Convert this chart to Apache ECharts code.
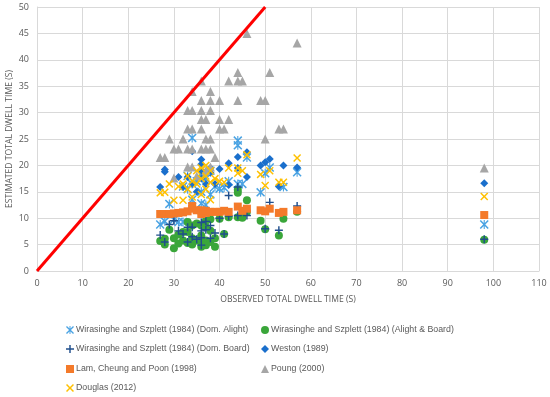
<!DOCTYPE html>
<html><head><meta charset="utf-8">
<script src="https://cdn.jsdelivr.net/npm/echarts@6/dist/echarts.min.js"></script>
<style>html,body{margin:0;padding:0;background:#fff}#c{width:550px;height:397px}</style>
</head><body><div id="c"></div>
<script>
var xTicks = [0,10,20,30,40,50,60,70,80,90,100,110];
var yTicks = [0,5,10,15,20,25,30,35,40,45,50];
var seriesNames = [
  'Wirasinghe and Szplett (1984) (Dom. Alight)',
  'Wirasinghe and Szplett (1984) (Alight & Board)',
  'Wirasinghe and Szplett (1984) (Dom. Board)',
  'Weston (1989)',
  'Lam, Cheung and Poon (1998)',
  'Poung (2000)',
  'Douglas (2012)'
];
var domAlight = [[27,8.8],[28,9.4],[29,12.7],[30,9.7],[31,9.3],[32,9.3],[32,16],[33,15.5],[33,18],[34,25.2],[34,16.5],[34,13.5],[35,17],[36,12.8],[36,15],[36,18.5],[37,12.5],[37,17.5],[38,14.5],[38,19],[39,16],[40,15.6],[41,15.8],[42,17],[44,24.7],[44,23.8],[44,16.5],[45,16.5],[46,21.5],[49,14.9],[50,18.5],[51,19.6],[54,15.9],[57,18.7],[98,8.8]];
var alightBoard = [[27,5.7],[28,6.1],[28,5],[29,7.8],[30,6.2],[30,4.3],[31,5.2],[31,6.9],[32,7.4],[32,5.8],[33,5.3],[33,7.4],[33,9.3],[34,6.2],[34,8.6],[34,5],[35,5.8],[35,9],[36,4.6],[36,6.7],[36,8.6],[36,5.5],[37,8.3],[37,5.8],[37,9.5],[37,4.9],[38,7.6],[38,5.5],[38,9.8],[39,6.2],[39,4.6],[40,9.9],[41,7],[42,10.2],[44,10.2],[44,14.8],[44,15.4],[45,10.1],[46,13.4],[46,11.2],[49,9.5],[50,7.9],[53,6.7],[54,9.9],[57,11.2],[98,5.9]];
var domBoard = [[27,6.8],[28,5.5],[29,8.8],[30,9.5],[31,7.6],[32,7],[33,8.3],[33,5.5],[34,8.3],[34,6.5],[35,6],[36,9.2],[36,7.6],[36,6.3],[36,4.9],[37,9.4],[37,7.8],[38,8.6],[38,6.2],[39,7.2],[40,10],[41,7],[42,14.3],[42,10.4],[44,15.9],[44,10.5],[46,10.5],[50,8],[51,13],[53,7.7],[57,12.3],[98,6]];
var weston = [[27,15.9],[28,18.8],[28,19.2],[31,17.8],[32,15.9],[33,17.8],[34,22.7],[34,16.5],[35,15],[36,21.1],[36,20.2],[36,19],[36,17.5],[37,18.5],[37,16.5],[38,19.5],[38,18.6],[39,16.5],[40,19.3],[42,20.4],[42,16.3],[44,21.6],[44,19.5],[46,22.5],[46,17.8],[49,20],[50,20.6],[51,21.2],[53,16],[54,20],[57,19.6],[98,16.6]];
var lam = [[27,10.8],[28,10.8],[29,10.8],[30,10.9],[31,11],[32,11.1],[33,11.3],[34,11.8],[34,12.3],[35,11.5],[36,10.8],[36,11.5],[37,11],[37,11.4],[38,11.2],[39,11.2],[40,11.2],[41,11.4],[42,11.2],[44,12.2],[45,11.4],[46,11.8],[49,11.5],[50,11.3],[51,11.8],[53,11],[54,11.2],[57,11.5],[98,10.6]];
var poung = [[27,21.5],[28,21.5],[29,25],[30,23.1],[30,17.6],[31,23.1],[32,25],[33,30.4],[33,26.9],[33,23.1],[33,19.7],[34,34],[34,30.4],[34,26.9],[34,23.1],[34,19.7],[35,18],[36,36],[36,32.3],[36,30.4],[36,28.7],[36,26.9],[36,23.1],[37,28.7],[37,25],[37,23.1],[37,19],[38,34],[38,32.3],[38,30.4],[38,25],[38,23.1],[38,19.7],[39,21.5],[40,32.3],[40,28.7],[40,26.9],[41,26.9],[42,28.7],[42,36],[44,37.6],[44,36],[44,32.3],[45,36],[46,45],[49,32.3],[50,32.3],[50,25],[51,37.6],[53,26.9],[54,26.9],[57,43.2],[98,19.5]];
var douglas = [[27,14.8],[28,14.9],[29,16.5],[30,13.4],[31,16],[32,13.4],[32,16.5],[33,15.5],[33,18],[34,14],[34,17],[35,16.5],[35,19],[36,14.5],[36,17.5],[36,19.5],[37,15.5],[37,18],[37,20],[38,13.5],[38,16.8],[38,19],[39,17.5],[40,17],[41,16.8],[42,19.5],[44,19.5],[44,18.5],[45,19],[46,22],[49,18.3],[50,16.2],[51,19],[53,16.8],[54,16.8],[57,21.4],[98,14.1]];
var refLine = [[0,0],[50,50]];

var XP = 'path://M0 1.3L1.3 0L5 3.7L8.7 0L10 1.3L6.3 5L10 8.7L8.7 10L5 6.3L1.3 10L0 8.7L3.7 5Z';
var STAR = 'path://M0 1.2L1.2 0L5 3.8L8.8 0L10 1.2L6.2 5L10 8.8L8.8 10L5 6.2L1.2 10L0 8.8L3.8 5ZM4.4 0L5.6 0L5.6 10L4.4 10Z';
var PLUS = 'path://M4.1 0H5.9V4.1H10V5.9H5.9V10H4.1V5.9H0V4.1H4.1Z';

var grey = '#595959';
var font = 'Open Sans';
var legFont = 'Liberation Sans';
function sc(name, data, symbol, size, color){
  return {name:name, type:'scatter', data:data, symbol:symbol, symbolSize:size,
    itemStyle:{color:color, opacity:1}, silent:true};
}
// legend slots: [series index, left, row center y]
var legendSlots = [[0,66,330],[1,261,330],[2,66,349],[3,261,349],[4,66,369],[5,261,369],[6,66,388]];
var legends = legendSlots.map(function(s){
  return {orient:'horizontal', left:s[1], top:s[2]-7, itemWidth:8, itemHeight:8, itemGap:0,
    padding:0, textStyle:{color:grey, fontSize:8.8, fontFamily:legFont, lineHeight:14, padding:[0,0,0,-3]},
    data:[seriesNames[s[0]]]};
});
var chart = echarts.init(document.getElementById('c'), null, {renderer:'canvas'});
chart.setOption({
  animation:false,
  backgroundColor:'#fff',
  grid:{left:37, right:11, top:7, bottom:126, containLabel:false, outerBoundsMode:'none'},
  xAxis:{type:'value', min:0, max:110, interval:10,
    name:'OBSERVED TOTAL DWELL TIME (S)', nameLocation:'middle', nameGap:24, nameMoveOverlap:false,
    nameTextStyle:{color:grey, fontSize:8.6, fontFamily:font},
    axisLine:{show:true, lineStyle:{color:'#d9d9d9'}}, axisTick:{show:false},
    axisLabel:{color:grey, fontSize:9, fontFamily:font, margin:8},
    splitLine:{show:true, lineStyle:{color:'#d9d9d9'}}},
  yAxis:{type:'value', min:0, max:50, interval:5,
    name:'ESTIMATED TOTAL DWELL TIME (S)', nameLocation:'middle', nameGap:23, nameMoveOverlap:false,
    nameTextStyle:{color:grey, fontSize:8.6, fontFamily:font},
    axisLine:{show:true, lineStyle:{color:'#d9d9d9'}}, axisTick:{show:false},
    axisLabel:{color:grey, fontSize:9, fontFamily:font, margin:8},
    splitLine:{show:true, lineStyle:{color:'#d9d9d9'}}},
  legend:legends,
  series:[
    sc(seriesNames[0], domAlight, STAR, 9, '#4aa3e3'),
    sc(seriesNames[1], alightBoard, 'circle', 8, '#3aa63a'),
    sc(seriesNames[2], domBoard, PLUS, 8, '#1f4e8c'),
    sc(seriesNames[3], weston, 'diamond', 8, '#1a6fcc'),
    sc(seriesNames[4], lam, 'rect', 8, '#f47a2a'),
    sc(seriesNames[5], poung, 'triangle', 9, '#a6a6a6'),
    sc(seriesNames[6], douglas, XP, 8, '#ffc000'),
    {name:'line', type:'line', data:refLine, showSymbol:false, symbol:'none', silent:true,
     lineStyle:{color:'#ff0000', width:3}, z:3}
  ]
});
</script></body></html>
